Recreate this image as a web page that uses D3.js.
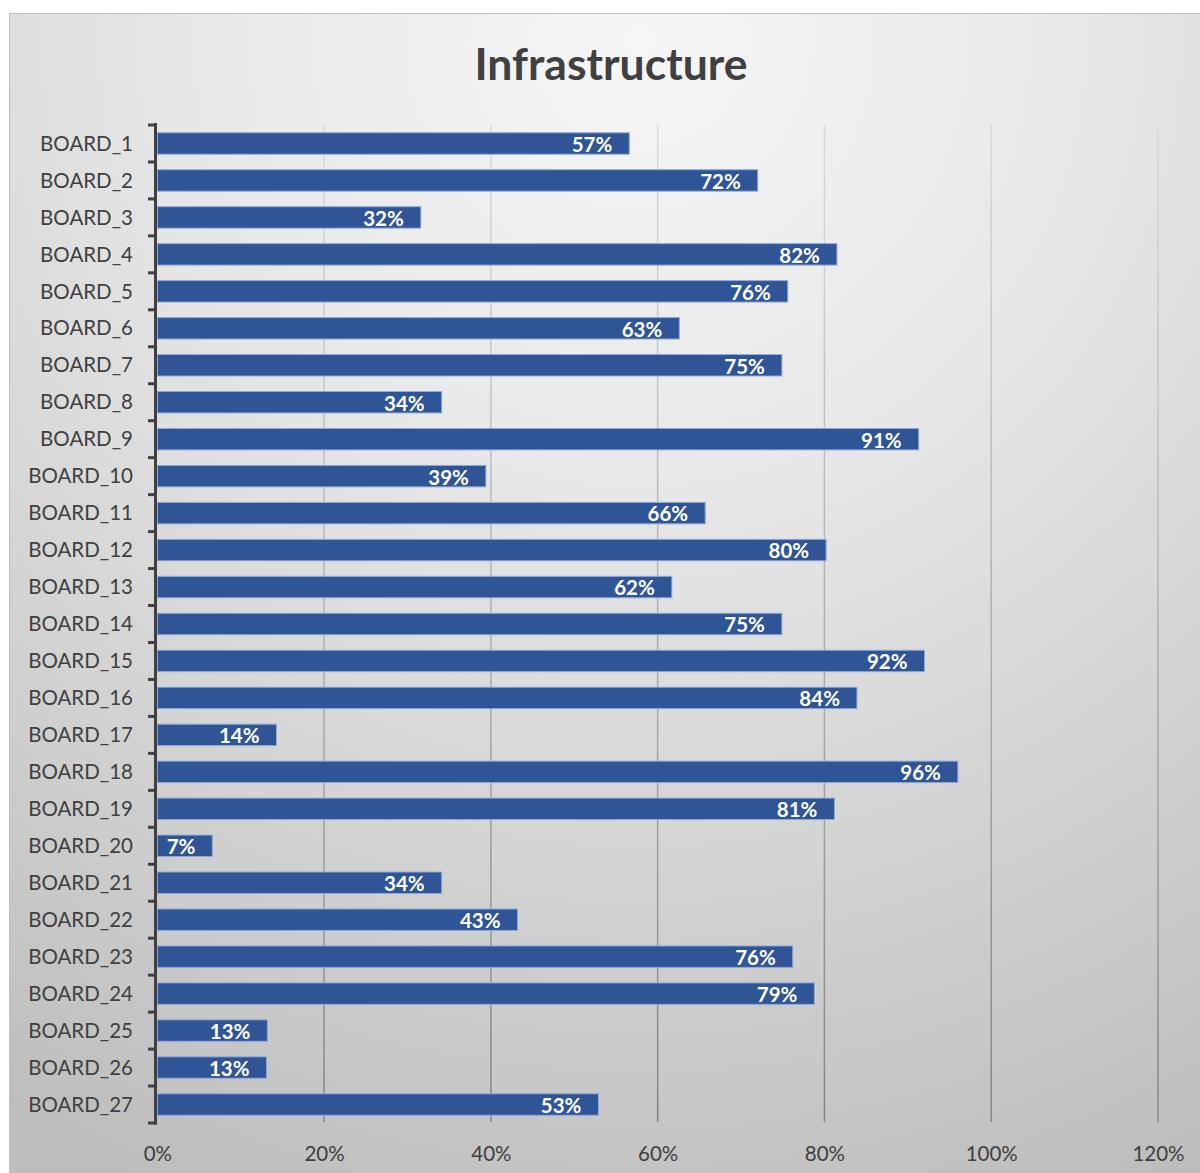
<!DOCTYPE html>
<html><head><meta charset="utf-8">
<script src="https://cdn.jsdelivr.net/npm/d3@7"></script>
<style>html,body{margin:0;padding:0;background:#fff;}svg{display:block;}</style>
</head><body>
<script>
const title = "Infrastructure";
const categories = ["BOARD_1","BOARD_2","BOARD_3","BOARD_4","BOARD_5","BOARD_6","BOARD_7","BOARD_8","BOARD_9","BOARD_10","BOARD_11","BOARD_12","BOARD_13","BOARD_14","BOARD_15","BOARD_16","BOARD_17","BOARD_18","BOARD_19","BOARD_20","BOARD_21","BOARD_22","BOARD_23","BOARD_24","BOARD_25","BOARD_26","BOARD_27"];
const values = [0.566,0.72,0.316,0.815,0.756,0.626,0.749,0.341,0.913,0.394,0.657,0.802,0.617,0.749,0.92,0.839,0.143,0.96,0.812,0.066,0.341,0.432,0.762,0.788,0.132,0.131,0.529];
const xTicks = [0,0.2,0.4,0.6,0.8,1.0,1.2];
const xTickLabels = ["0%","20%","40%","60%","80%","100%","120%"];

const W = 1200, H = 1173;
const svg = d3.select("body").append("svg").attr("width", W).attr("height", H);
const defs = svg.append("defs");
const bg = defs.append("radialGradient").attr("id","bg")
  .attr("gradientUnits","userSpaceOnUse").attr("cx",640).attr("cy",40).attr("r",1250)
  .attr("fx",640).attr("fy",40);
bg.append("stop").attr("offset","0%").attr("stop-color","#f6f6f6");
bg.append("stop").attr("offset","35%").attr("stop-color","#e8e8e8");
bg.append("stop").attr("offset","100%").attr("stop-color","#bdbdbd");
const gg = defs.append("linearGradient").attr("id","grid")
  .attr("gradientUnits","userSpaceOnUse").attr("x1",0).attr("y1",125).attr("x2",0).attr("y2",1122);
gg.append("stop").attr("offset","0%").attr("stop-color","#dadada");
gg.append("stop").attr("offset","100%").attr("stop-color","#858585");

svg.append("rect").attr("x",9.5).attr("y",13.5).attr("width",W).attr("height",H)
  .attr("fill","url(#bg)").attr("stroke","#bfbfbf").attr("stroke-width",1);

const x = d3.scaleLinear().domain([0,1.2]).range([157.3,1158]);
const y = d3.scaleBand().domain(categories).range([125,1123]).paddingInner(0.42).paddingOuter(0.21);

svg.append("text").attr("x",611).attr("y",80).attr("text-anchor","middle")
  .attr("font-family","Lato, 'Open Sans', sans-serif").attr("font-weight","bold")
  .attr("font-size",44.5).attr("fill","#404040").text(title);

// gridlines
svg.append("g").selectAll("line").data(xTicks.slice(1)).join("line")
  .attr("x1",d=>x(d)).attr("x2",d=>x(d)).attr("y1",125).attr("y2",1122)
  .attr("stroke","url(#grid)").attr("stroke-width",1.5);

// x axis labels
const xAxis = d3.axisBottom(x).tickValues(xTicks).tickFormat((d,i)=>xTickLabels[i]).tickSize(0).tickPadding(0);
const gx = svg.append("g").attr("transform","translate(0,1154)").call(xAxis);
gx.select(".domain").remove();
gx.selectAll("text").attr("font-family","Lato, 'Open Sans', sans-serif").attr("font-size",20.5)
  .attr("fill","#404040").attr("dy","0.35em").attr("y",0);

// bars
svg.append("g").selectAll("rect").data(values).join("rect")
  .attr("x",x(0)).attr("y",(d,i)=>y(categories[i]))
  .attr("width",d=>x(d)-x(0)).attr("height",y.bandwidth())
  .attr("fill","#2f5597").attr("stroke","#8eaadb").attr("stroke-width",1);

// data labels
svg.append("g").selectAll("text").data(values).join("text")
  .attr("x",d=>x(d)-17).attr("y",(d,i)=>y(categories[i])+y.bandwidth()/2+1)
  .attr("dy","0.36em").attr("text-anchor","end")
  .attr("font-family","Lato, 'Open Sans', sans-serif").attr("font-weight","bold")
  .attr("font-size",20.5).attr("fill","#ffffff")
  .text(d=>Math.round(d*100)+"%");

// y axis
const bounds = d3.range(categories.length+1).map(i=>125 + i*(998/categories.length));
const ya = svg.append("g");
ya.append("line").attr("x1",155.5).attr("x2",155.5).attr("y1",123).attr("y2",1124.5)
  .attr("stroke","#404040").attr("stroke-width",3);
ya.selectAll("line.t").data(bounds).join("line").attr("class","t")
  .attr("x1",148).attr("x2",157).attr("y1",d=>d).attr("y2",d=>d)
  .attr("stroke","#404040").attr("stroke-width",3);
ya.selectAll("text").data(categories).join("text")
  .attr("x",133).attr("y",d=>y(d)+y.bandwidth()/2).attr("dy","0.35em")
  .attr("text-anchor","end").attr("font-family","Lato, 'Open Sans', sans-serif")
  .attr("font-size",20.5).attr("fill","#404040").text(d=>d);
</script>
</body></html>
